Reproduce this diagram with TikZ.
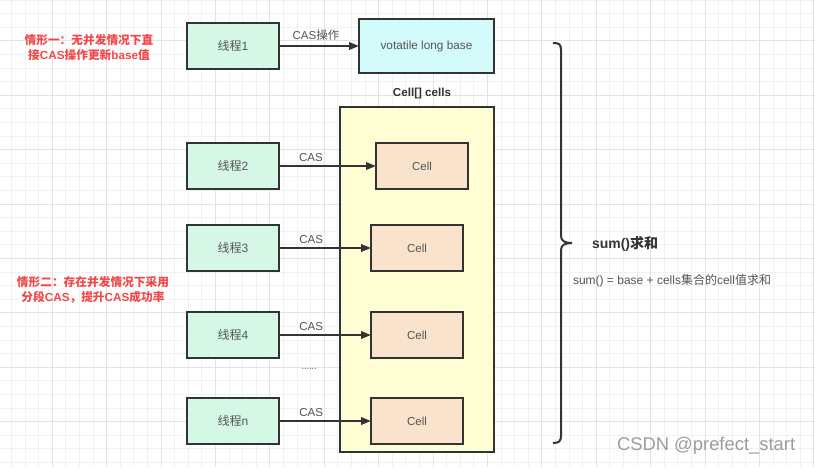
\documentclass[tikz,border=0pt]{standalone}
\usepackage{fontspec}
\setmainfont{Liberation Sans}
\newfontfamily\cjk{Noto Sans CJK SC}
\usetikzlibrary{arrows.meta}
\definecolor{gridminor}{HTML}{F1F1F1}
\definecolor{gridmajor}{HTML}{E3E3E3}
\definecolor{thrfill}{HTML}{D5F8E6}
\definecolor{basefill}{HTML}{D4FBFC}
\definecolor{contfill}{HTML}{FFFDD3}
\definecolor{cellfill}{HTML}{F9E3CC}
\definecolor{edge}{HTML}{333333}
\definecolor{txt}{HTML}{555555}
\definecolor{redtxt}{HTML}{F24848}
\definecolor{wmark}{HTML}{9C9C9C}
\tikzset{
  every node/.style={inner sep=0pt, outer sep=0pt},
  box/.style={draw=edge, line width=2pt, text=txt, font=\fontsize{12}{14}\selectfont},
  thr/.style={box, fill=thrfill, minimum width=92pt, minimum height=46pt},
  cellbox/.style={box, fill=cellfill, minimum width=92pt, minimum height=46pt, font=\fontsize{11.5}{13}\selectfont},
  arr/.style={draw=edge, line width=2pt, -{Triangle[length=10pt,width=7.5pt]}},
  lbl/.style={text=txt, font=\fontsize{11.5}{13}\selectfont},
  redlbl/.style={text=redtxt, font=\fontsize{11.7}{14.5}\selectfont\bfseries, align=center},
}
\begin{document}
\begin{tikzpicture}[x=1pt,y=-1pt]
\useasboundingbox (0,0) rectangle (815,467);
\fill[white] (0,0) rectangle (815,467);
% grid
\foreach \i in {0,...,60} {
  \draw[gridminor, line width=1pt] ({-2.1+13.6*\i},0) -- ({-2.1+13.6*\i},467);
}
\foreach \j in {0,...,35} {
  \draw[gridminor, line width=1pt] (0,{-13.5+13.6*\j}) -- (815,{-13.5+13.6*\j});
}
\foreach \i in {0,...,15} {
  \draw[gridmajor, line width=1pt] ({-2.1+54.4*\i},0) -- ({-2.1+54.4*\i},467);
}
\foreach \j in {0,...,9} {
  \draw[gridmajor, line width=1pt] (0,{-13.5+54.4*\j}) -- (815,{-13.5+54.4*\j});
}

% red notes
\node[redlbl] (note1) at (89,47.5) {{\cjk 情形一：无并发情况下直}\\{\cjk 接}CAS{\cjk 操作更新}base{\cjk 值}};
\node[redlbl] (note2) at (93,290) {{\cjk 情形二：存在并发情况下采用}\\{\cjk 分段}CAS{\cjk ，提升}CAS{\cjk 成功率}};

% top row
\node[thr] (t1) at (233,46) {{\cjk 线程}1};
\node[box, fill=basefill, minimum width=135pt, minimum height=54pt, font=\fontsize{11.8}{14}\selectfont] (base) at (426.5,46) {votatile long base};
\draw[arr] (t1.east) -- (base.west) node[lbl, midway, above=6pt, xshift=-3pt] (op1) {CAS{\cjk 操作}};

% container
\node[text=edge, font=\fontsize{11.6}{13}\selectfont\bfseries] (ctitle) at (422,93.5) {Cell[] cells};
\node[box, fill=contfill, minimum width=154pt, minimum height=345pt] (cont) at (417,279.5) {};

% threads and cells
\node[thr] (t2) at (233,166) {{\cjk 线程}2};
\node[cellbox] (c2) at (422,166) {Cell};
\node[thr] (t3) at (233,248) {{\cjk 线程}3};
\node[cellbox] (c3) at (417,248) {Cell};
\node[thr] (t4) at (233,335) {{\cjk 线程}4};
\node[cellbox] (c4) at (417,335) {Cell};
\node[thr] (tn) at (233,421) {{\cjk 线程}n};
\node[cellbox] (cn) at (417,421) {Cell};

\draw[arr] (t2.east) -- (c2.west) node[lbl, pos=0.33, above=4pt] (l2) {CAS};
\draw[arr] (t3.east) -- (c3.west) node[lbl, pos=0.35, above=4pt] (l3) {CAS};
\draw[arr] (t4.east) -- (c4.west) node[lbl, pos=0.35, above=4pt] (l4) {CAS};
\draw[arr] (tn.east) -- (cn.west) node[lbl, pos=0.35, above=4pt] (ln) {CAS};
\node[lbl, font=\fontsize{9}{10}\selectfont] (dots) at (309,369) {......};

% brace
\draw[edge, line width=2pt]
  (553,43) .. controls (559,43) and (561,44) .. (561,50)
  -- (561,236) .. controls (561,241) and (565,243) .. (572,243)
  .. controls (565,243) and (561,245) .. (561,250)
  -- (561,436) .. controls (561,441) and (559,443) .. (553,443);

\node[anchor=west, text=edge, font=\fontsize{14}{16}\selectfont\bfseries] (sum) at (592,244) {sum(){\cjk 求和}};
\node[anchor=west, text=txt, font=\fontsize{12}{14}\selectfont] (sumdesc) at (573,281) {sum() = base + cells{\cjk 集合的}cell{\cjk 值求和}};

% watermark
\node[anchor=west, text=wmark, font=\fontsize{18.4}{20}\selectfont] (wm) at (617,446) {CSDN @prefect\_start};
\end{tikzpicture}
\end{document}
